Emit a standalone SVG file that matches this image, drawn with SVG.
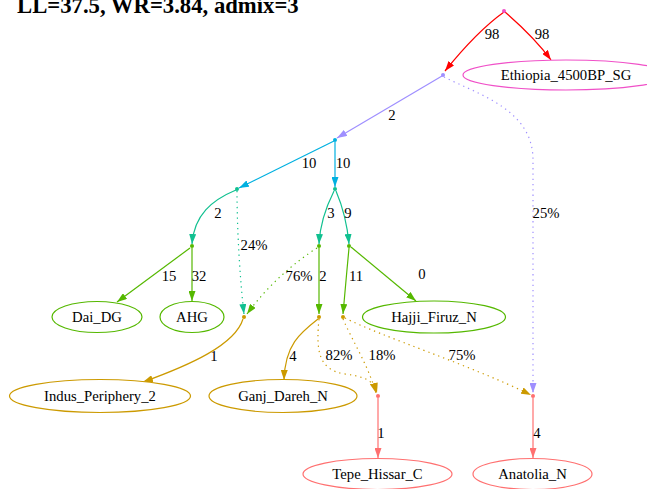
<svg xmlns="http://www.w3.org/2000/svg" width="647" height="489" viewBox="0 0 647 489">
  <style>
    .lbl { font-family: "Liberation Serif", "Times New Roman", serif; font-size: 14.7px; fill: #000; text-anchor: middle; }
    .title { font-family: "Liberation Serif", "Times New Roman", serif; font-size: 22.7px; font-weight: bold; fill: #000; }
    .e { fill: none; stroke-width: 1.2; }
    .dot { stroke-dasharray: 1.3 4; }
    .ell { fill: #fff; stroke-width: 1.2; }
    .red { stroke: #ff0000; }
    .pur { stroke: #9f8fff; }
    .blu { stroke: #00b0e0; }
    .tea { stroke: #10c090; }
    .grn { stroke: #55b800; }
    .gld { stroke: #cc9a00; }
    .sal { stroke: #ff7070; }
    .mag { stroke: #f050c8; }
  </style>
  <defs>
    <marker id="ah-red" viewBox="0 0 10 7" refX="10" refY="3.5" markerWidth="10" markerHeight="7" markerUnits="userSpaceOnUse" orient="auto"><path d="M0,0 L10,3.5 L0,7 z" fill="#ff0000"/></marker>
    <marker id="ah-pur" viewBox="0 0 10 7" refX="10" refY="3.5" markerWidth="10" markerHeight="7" markerUnits="userSpaceOnUse" orient="auto"><path d="M0,0 L10,3.5 L0,7 z" fill="#9f8fff"/></marker>
    <marker id="ah-blu" viewBox="0 0 10 7" refX="10" refY="3.5" markerWidth="10" markerHeight="7" markerUnits="userSpaceOnUse" orient="auto"><path d="M0,0 L10,3.5 L0,7 z" fill="#00b0e0"/></marker>
    <marker id="ah-tea" viewBox="0 0 10 7" refX="10" refY="3.5" markerWidth="10" markerHeight="7" markerUnits="userSpaceOnUse" orient="auto"><path d="M0,0 L10,3.5 L0,7 z" fill="#10c090"/></marker>
    <marker id="ah-grn" viewBox="0 0 10 7" refX="10" refY="3.5" markerWidth="10" markerHeight="7" markerUnits="userSpaceOnUse" orient="auto"><path d="M0,0 L10,3.5 L0,7 z" fill="#55b800"/></marker>
    <marker id="ah-gld" viewBox="0 0 10 7" refX="10" refY="3.5" markerWidth="10" markerHeight="7" markerUnits="userSpaceOnUse" orient="auto"><path d="M0,0 L10,3.5 L0,7 z" fill="#cc9a00"/></marker>
    <marker id="ah-sal" viewBox="0 0 10 7" refX="10" refY="3.5" markerWidth="10" markerHeight="7" markerUnits="userSpaceOnUse" orient="auto"><path d="M0,0 L10,3.5 L0,7 z" fill="#ff7070"/></marker>
  </defs>

  <rect width="647" height="489" fill="#fff"/>
  <text class="title" x="17" y="13">LL=37.5, WR=3.84, admix=3</text>

  <!-- edges -->
  <g id="connectors">
    <path class="e red" d="M504,12 C490,22 470,40 445,71" marker-end="url(#ah-red)"/>
    <path class="e red" d="M505,12 C520,25 537,41 551,60" marker-end="url(#ah-red)"/>
    <path class="e pur" d="M442,76 L337,138" marker-end="url(#ah-pur)"/>
    <path class="e pur dot" d="M444,77 C480,95 533,110 533,160 L533,393" marker-end="url(#ah-pur)"/>
    <path class="e blu" d="M334,141 L239,188" marker-end="url(#ah-blu)"/>
    <path class="e blu" d="M335,142 L335,187" marker-end="url(#ah-blu)"/>
    <path class="e tea" d="M236,190 C212,200 194,215 192,244" marker-end="url(#ah-tea)"/>
    <path class="e tea dot" d="M237,191 C237,230 240,280 244,314" marker-end="url(#ah-tea)"/>
    <path class="e tea" d="M334,191 C327,205 320,222 319,244" marker-end="url(#ah-tea)"/>
    <path class="e tea" d="M336,191 C342,205 347,222 349,244" marker-end="url(#ah-tea)"/>
    <path class="e grn" d="M190,248 L117,302" marker-end="url(#ah-grn)"/>
    <path class="e grn" d="M192,248 L192,301" marker-end="url(#ah-grn)"/>
    <path class="e grn dot" d="M317,248 C295,262 268,285 247,314" marker-end="url(#ah-grn)"/>
    <path class="e grn" d="M319,248 L319,314" marker-end="url(#ah-grn)"/>
    <path class="e grn" d="M349,248 C347,270 345,290 343,314" marker-end="url(#ah-grn)"/>
    <path class="e grn" d="M351,247 L416,301" marker-end="url(#ah-grn)"/>
    <path class="e gld" d="M243,319 C235,345 190,365 143,382" marker-end="url(#ah-gld)"/>
    <path class="e gld" d="M318,319 C300,333 285,345 284,380" marker-end="url(#ah-gld)"/>
    <path class="e gld dot" d="M319,319 C316,350 318,370 345,374 C368,377 374,382 377,393" marker-end="url(#ah-gld)"/>
    <path class="e gld dot" d="M343,319 C352,340 368,365 376,393" marker-end="url(#ah-gld)"/>
    <path class="e gld dot" d="M345,318 C380,336 470,365 531,395" marker-end="url(#ah-gld)"/>
    <path class="e sal" d="M378,398 L378,458" marker-end="url(#ah-sal)"/>
    <path class="e sal" d="M533,398 L533,458" marker-end="url(#ah-sal)"/>

    <text class="lbl" x="492" y="39">98</text>
    <text class="lbl" x="542" y="39">98</text>
    <text class="lbl" x="392" y="120">2</text>
    <text class="lbl" x="546" y="218">25%</text>
    <text class="lbl" x="309" y="168">10</text>
    <text class="lbl" x="343" y="168">10</text>
    <text class="lbl" x="218" y="218">2</text>
    <text class="lbl" x="254" y="250">24%</text>
    <text class="lbl" x="331" y="218">3</text>
    <text class="lbl" x="348" y="218">9</text>
    <text class="lbl" x="169" y="281">15</text>
    <text class="lbl" x="199" y="281">32</text>
    <text class="lbl" x="299" y="281">76%</text>
    <text class="lbl" x="323" y="281">2</text>
    <text class="lbl" x="356" y="281">11</text>
    <text class="lbl" x="422" y="279">0</text>
    <text class="lbl" x="214" y="361">1</text>
    <text class="lbl" x="293" y="361">4</text>
    <text class="lbl" x="339" y="360">82%</text>
    <text class="lbl" x="382" y="360">18%</text>
    <text class="lbl" x="462" y="360">75%</text>
    <text class="lbl" x="381" y="438">1</text>
    <text class="lbl" x="537" y="438">4</text>
  </g>

  <!-- internal points -->
  <g id="R"><circle cx="504" cy="11" r="2" fill="#f050c8"/></g>
  <g id="A"><circle cx="443" cy="75" r="2" fill="#9f8fff"/></g>
  <g id="B"><circle cx="335" cy="140" r="2" fill="#00b0e0"/></g>
  <g id="C"><circle cx="237" cy="189" r="2" fill="#10c090"/></g>
  <g id="D"><circle cx="335" cy="189" r="2" fill="#10c090"/></g>
  <g id="E"><circle cx="192" cy="246" r="2" fill="#55b800"/></g>
  <g id="G"><circle cx="319" cy="246" r="2" fill="#55b800"/></g>
  <g id="H"><circle cx="349" cy="246" r="2" fill="#55b800"/></g>
  <g id="F"><circle cx="244" cy="317" r="2" fill="#cc9a00"/></g>
  <g id="I"><circle cx="319" cy="317" r="2" fill="#cc9a00"/></g>
  <g id="J"><circle cx="343" cy="317" r="2" fill="#cc9a00"/></g>
  <g id="K"><circle cx="378" cy="396" r="2" fill="#ff7070"/></g>
  <g id="L"><circle cx="533" cy="396" r="2" fill="#ff7070"/></g>

  <!-- populations -->
  <g id="Ethiopia_4500BP_SG"><ellipse class="ell mag" cx="566" cy="75" rx="103" ry="15"/><text class="lbl" x="566" y="80">Ethiopia_4500BP_SG</text></g>
  <g id="Dai_DG"><ellipse class="ell grn" cx="97" cy="317" rx="45" ry="15.5"/><text class="lbl" x="97" y="322">Dai_DG</text></g>
  <g id="AHG"><ellipse class="ell grn" cx="192" cy="317" rx="32" ry="15.5"/><text class="lbl" x="192" y="322">AHG</text></g>
  <g id="Hajji_Firuz_N"><ellipse class="ell grn" cx="434" cy="317" rx="71.5" ry="16"/><text class="lbl" x="434" y="322">Hajji_Firuz_N</text></g>
  <g id="Indus_Periphery_2"><ellipse class="ell gld" cx="100" cy="396" rx="90.5" ry="16.5"/><text class="lbl" x="100" y="401">Indus_Periphery_2</text></g>
  <g id="Ganj_Dareh_N"><ellipse class="ell gld" cx="283" cy="396" rx="74" ry="16.5"/><text class="lbl" x="283" y="401">Ganj_Dareh_N</text></g>
  <g id="Tepe_Hissar_C"><ellipse class="ell sal" cx="377.5" cy="474" rx="74.5" ry="15.5"/><text class="lbl" x="377.5" y="479">Tepe_Hissar_C</text></g>
  <g id="Anatolia_N"><ellipse class="ell sal" cx="532.5" cy="474" rx="59.5" ry="15.5"/><text class="lbl" x="532.5" y="479">Anatolia_N</text></g>
</svg>
